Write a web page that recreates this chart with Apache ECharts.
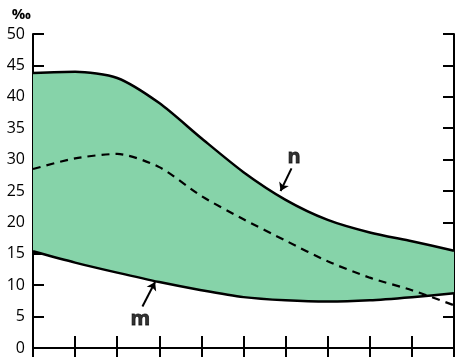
<!DOCTYPE html>
<html>
<head>
<meta charset="utf-8">
<script src="https://cdn.jsdelivr.net/npm/echarts@6/dist/echarts.min.js"></script>
<style>
  html, body { margin: 0; padding: 0; background: #fff; }
  #chart { width: 462px; height: 357px; }
</style>
</head>
<body>
<div id="chart"></div>
<script>
// x positions (ticks, no labels)
const xs = ['0', '1', '2', '3', '4', '5', '6', '7', '8', '9', '10']
// upper bound n, lower bound m, dashed middle curve (‰)
const nValues = [43.8, 44.0, 43.0, 39.0, 33.4, 28.0, 23.6, 20.4, 18.4, 17.0, 15.5]
const mValues = [15.4, 13.6, 12.0, 10.5, 9.2, 8.1, 7.6, 7.4, 7.6, 8.1, 8.7]
const dashValues = [28.5, 30.2, 30.9, 28.8, 24.2, 20.5, 17.1, 13.8, 11.2, 9.2, 6.8]
const yTicks = [0, 5, 10, 15, 20, 25, 30, 35, 40, 45, 50]
// annotations: [text, label x, label y, arrow start x, arrow start y, arrow end x, arrow end y]
const notes = [
  ['n', 6.2, 30.4, 6.14, 28.6, 5.88, 25.0],
  ['m', 2.55, 4.6, 2.6, 6.6, 2.9, 10.5]
]

const ink = '#000'
const green = '#86d3a9'
const font = 'Open Sans, sans-serif'
const smooth = 0.25

const bandData = nValues.map((v, i) => +(v - mValues[i]).toFixed(2))

const chart = echarts.init(document.getElementById('chart'), null, { renderer: 'canvas' })

const axisLine = { show: true, lineStyle: { color: ink, width: 2 } }

chart.setOption({
  animation: false,
  backgroundColor: '#fff',
  grid: { left: 33, right: 8, top: 34, bottom: 9 },
  xAxis: [
    {
      type: 'category', data: xs, boundaryGap: false, position: 'bottom',
      axisLine, axisTick: { inside: true, length: 12, lineStyle: { color: ink, width: 2 } },
      axisLabel: { show: false }, splitLine: { show: false }
    },
    {
      type: 'category', data: xs, boundaryGap: false, position: 'top',
      axisLine, axisTick: { inside: true, length: 14, lineStyle: { color: ink, width: 2 } },
      axisLabel: { show: false }, splitLine: { show: false }
    },
    {
      // hidden value axis for placing the annotations
      type: 'value', min: 0, max: 10, show: false
    }
  ],
  yAxis: [
    {
      type: 'value', min: yTicks[0], max: yTicks[yTicks.length - 1], interval: 5, position: 'left',
      name: '‰', nameGap: 12,
      nameTextStyle: { color: ink, fontSize: 15, fontFamily: font, fontWeight: 'bold', align: 'right', padding: [0, 2, 0, 0] },
      axisLine, axisTick: { inside: true, length: 11, lineStyle: { color: ink, width: 2 } },
      axisLabel: { color: ink, fontSize: 16, fontFamily: font, margin: 8 },
      splitLine: { show: false }
    },
    {
      type: 'value', min: yTicks[0], max: yTicks[yTicks.length - 1], interval: 5, position: 'right',
      axisLine, axisTick: { inside: true, length: 11, lineStyle: { color: ink, width: 2 } },
      axisLabel: { show: false }, splitLine: { show: false }
    }
  ],
  series: [
    {
      name: 'm-base', type: 'line', stack: 'band', data: mValues,
      smooth, showSymbol: false, lineStyle: { width: 0, opacity: 0 }, silent: true, z: 1
    },
    {
      name: 'band', type: 'line', stack: 'band', data: bandData,
      smooth, showSymbol: false, lineStyle: { width: 0, opacity: 0 },
      areaStyle: { color: green, opacity: 1 }, silent: true, z: 1
    },
    {
      name: 'n', type: 'line', data: nValues, smooth, showSymbol: false,
      lineStyle: { color: ink, width: 2.5 }, z: 3
    },
    {
      name: 'm', type: 'line', data: mValues, smooth, showSymbol: false,
      lineStyle: { color: ink, width: 2.5 }, z: 3
    },
    {
      name: 'mid', type: 'line', data: dashValues, smooth, showSymbol: false,
      lineStyle: { color: ink, width: 2.2, type: [8, 6] }, z: 3
    },
    {
      name: 'notes', type: 'scatter', xAxisIndex: 2, yAxisIndex: 0, silent: true, z: 4,
      symbolSize: 0, itemStyle: { color: ink },
      data: notes.map(([t, lx, ly]) => ({ name: t, value: [lx, ly] })),
      label: {
        show: true, position: [0, 0], align: 'center', verticalAlign: 'middle',
        color: ink, fontSize: 20, fontWeight: 'bold', fontFamily: font,
        textBorderColor: ink, textBorderWidth: 0.8,
        formatter: (p) => p.name
      },
      markLine: {
        silent: true, animation: false,
        symbol: ['none', 'arrow'], symbolSize: 8,
        lineStyle: { color: ink, width: 2, type: 'solid' },
        label: { show: false },
        data: notes.map(([t, lx, ly, sx, sy, ax, ay]) => [
          { coord: [sx, sy] },
          { coord: [ax, ay] }
        ])
      }
    }
  ]
})
</script>
</body>
</html>
